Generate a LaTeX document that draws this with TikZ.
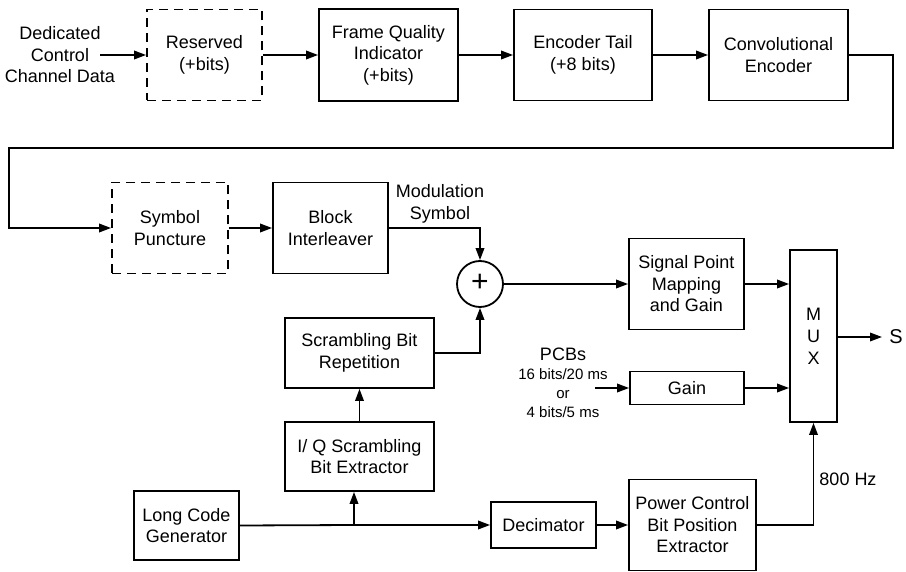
\documentclass[tikz,border=0pt]{standalone}
\usepackage{fontspec}
\setmainfont{Liberation Sans}
\usetikzlibrary{arrows.meta}
\begin{document}
\begin{tikzpicture}[x=1pt,y=-1pt,
  every node/.style={font=\fontsize{18}{21.5}\selectfont, align=center, inner sep=0pt},
  blk/.style={draw, line width=1.8pt, rectangle, minimum width=#1},
  dblk/.style={draw, line width=1.8pt, dash pattern=on 9pt off 6pt, rectangle, minimum width=#1},
  conn/.style={line width=1.8pt},
  arr/.style={line width=1.8pt, -{Triangle[length=12pt,width=8.5pt]}},
  small/.style={font=\fontsize{15}{19}\selectfont}]
\useasboundingbox (0,0) rectangle (906,572);
% top row
\node (dcc) at (60,55) {Dedicated\\Control\\Channel Data};
\coordinate (din) at (100,55);
\node[dblk=115pt, minimum height=91pt] (res) at (204.5,55) {Reserved\\(+bits)};
\node[blk=139pt, minimum height=92pt] (fqi) at (388.5,55) {Frame Quality\\Indicator\\(+bits)};
\node[blk=138pt, minimum height=91pt] (et) at (583,55) {Encoder Tail\\(+8 bits)};
\node[blk=139pt, minimum height=91pt] (ce) at (778.5,55) {Convolutional\\Encoder};
% second row
\node[dblk=116pt, minimum height=91pt] (sp) at (170,228) {Symbol\\Puncture};
\node[blk=115pt, minimum height=91pt] (bi) at (330.5,228) {Block\\Interleaver};
\node (mod) at (440,204) {Modulation\\Symbol};
\node[draw, circle, line width=1.8pt, minimum size=46pt] (add) at (480,284) {};
\node[font=\fontsize{30}{30}\selectfont] (plus) at (480,283) {+};
\node[blk=115pt, minimum height=91pt] (spm) at (686.5,284) {Signal Point\\Mapping\\and Gain};
\node[blk=47pt, minimum height=172pt, font=\fontsize{18}{22}\selectfont] (mux) at (813.5,336) {M\\U\\X};
\coordinate (sout) at (882,337);
\node[font=\fontsize{20}{20}\selectfont] (s) at (896,337) {S};
% lower part
\node[blk=149pt, minimum height=70pt] (sbr) at (359.5,353) {Scrambling Bit\\Repetition};
\node (pcbs) at (563,354) {PCBs};
\node[small] (rate) at (563,393) {16 bits/20 ms\\or\\4 bits/5 ms};
\coordinate (pin) at (595,388);
\node[blk=114pt, minimum height=33pt] (gain) at (687,388) {Gain};
\node[blk=149pt, minimum height=69pt] (iq) at (359.5,456.5) {I/ Q Scrambling\\Bit Extractor};
\node[blk=105pt, minimum height=69pt] (lcg) at (186.5,525.5) {Long Code\\Generator};
\node[blk=105pt, minimum height=46pt] (dec) at (543.5,525) {Decimator};
\node[blk=127pt, minimum height=91pt] (pcb) at (692.5,525) {Power Control\\Bit Position\\Extractor};
\node (hz) at (848,479) {800 Hz};
\coordinate (j) at (354,525);
\coordinate (c1) at (893,55);
\coordinate (c2) at (893,148);
\coordinate (c3) at (9,148);
\coordinate (c4) at (9,228);
% connectors
\draw[arr] (din) -- (res.west);
\draw[arr] (res.east) -- (fqi.west);
\draw[arr] (fqi.east) -- (et.west);
\draw[arr] (et.east) -- (ce.west);
\draw[arr] (ce.east) -- (c1) -- (c2) -- (c3) -- (c4) -- (sp.west);
\draw[arr] (sp.east) -- (bi.west);
\draw[arr] (bi.east) -| (add.north);
\draw[arr] (add.east) -- (spm.west);
\draw[arr] (spm.east) -- (spm.east -| mux.west);
\draw[arr] (gain.east) -- (gain.east -| mux.west);
\draw[arr] (pin) -- (gain.west);
\draw[arr] (mux.east |- sout) -- (sout);
\draw[arr] (sbr.east) -| (add.south);
\draw[arr] (iq.north -| sbr.south) -- (sbr.south);
\draw[conn] (lcg.east) -- (j);
\draw[arr] (j) -- (dec.west);
\draw[arr] (j) -- (j |- iq.south);
\draw[arr] (dec.east) -- (pcb.west);
\draw[arr] (pcb.east) -| (mux.south);
\end{tikzpicture}
\end{document}
